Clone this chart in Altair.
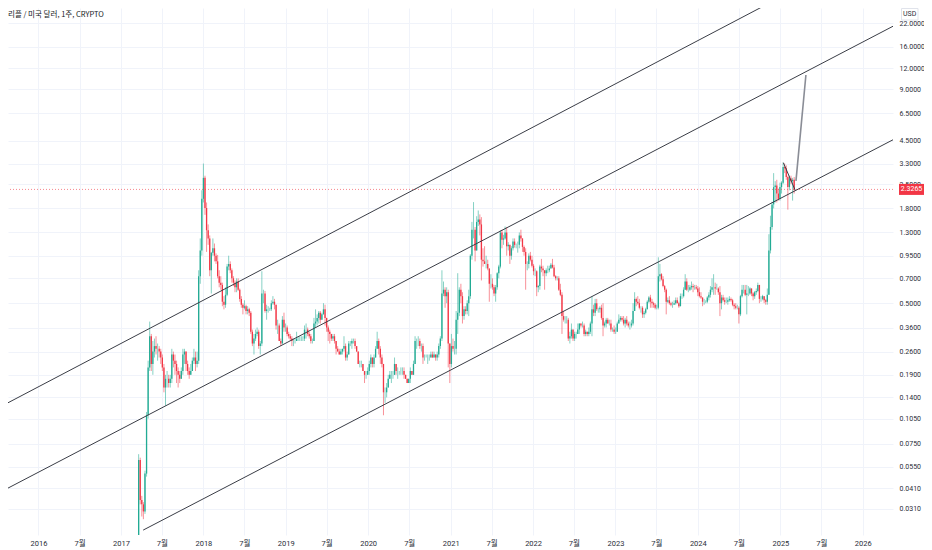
import altair as alt
import pandas as pd

UP = "#22ab94"
DOWN = "#f23645"
LINE = "#3a3d46"
GRID = "#f0f3fa"
TXT = "#2a2e39"
FONT = "Roboto, Noto Sans CJK KR, sans-serif"

title_text = "리플 / 미국 달러, 1주, CRYPTO"
currency = "USD"
last_price = 2.3265
first_open = 0.0085

y_ticks = [0.031, 0.041, 0.055, 0.075, 0.105, 0.14, 0.19, 0.26, 0.36, 0.5, 0.7,
           0.95, 1.3, 1.8, 2.5, 3.3, 4.5, 6.5, 9.0, 12.0, 16.0, 22.0]
x_tick_years = list(range(2016, 2027))

# weekly candles (high, low, close); open = previous week's close
w2017 = [  # from 2017-03-20
    (0.065, 0.008, 0.060), (0.062, 0.033, 0.035), (0.037, 0.028, 0.033), (0.034, 0.027, 0.030),
    (0.052, 0.029, 0.050), (0.115, 0.048, 0.110), (0.23, 0.105, 0.21), (0.39, 0.20, 0.32),
    (0.33, 0.20, 0.22), (0.30, 0.19, 0.26),
    (0.31, 0.24, 0.28), (0.32, 0.25, 0.27), (0.29, 0.23, 0.27), (0.28, 0.24, 0.26), (0.27, 0.22, 0.24),
    (0.25, 0.20, 0.21), (0.22, 0.15, 0.16), (0.19, 0.125, 0.18), (0.20, 0.16, 0.18), (0.19, 0.16, 0.17),
    (0.19, 0.16, 0.18), (0.27, 0.17, 0.25), (0.26, 0.21, 0.23), (0.25, 0.19, 0.22),
    (0.23, 0.17, 0.20), (0.21, 0.16, 0.19), (0.20, 0.17, 0.18), (0.21, 0.18, 0.20),
    (0.27, 0.19, 0.25), (0.27, 0.22, 0.26), (0.26, 0.20, 0.22), (0.23, 0.19, 0.20), (0.21, 0.18, 0.19),
    (0.22, 0.19, 0.20), (0.24, 0.20, 0.23), (0.27, 0.22, 0.24), (0.26, 0.20, 0.22),
    (0.26, 0.21, 0.23), (0.78, 0.22, 0.72), (1.20, 0.65, 1.02), (2.30, 0.95, 2.05),
]
w2018 = [  # from 2018-01-01
    (3.30, 1.95, 2.72), (2.80, 1.65, 1.81), (1.95, 1.00, 1.34), (1.45, 1.10, 1.20), (1.25, 0.72, 0.78),
    (1.00, 0.57, 0.99), (1.20, 0.95, 1.05), (1.12, 0.88, 0.95), (0.98, 0.85, 0.88),
    (0.96, 0.70, 0.72), (0.78, 0.62, 0.66), (0.72, 0.60, 0.64), (0.66, 0.48, 0.51),
    (0.55, 0.46, 0.49), (0.62, 0.47, 0.56), (0.85, 0.55, 0.82), (0.95, 0.78, 0.85), (0.88, 0.75, 0.78),
    (0.80, 0.66, 0.70), (0.72, 0.63, 0.66), (0.68, 0.58, 0.62), (0.70, 0.58, 0.67),
    (0.70, 0.59, 0.60), (0.61, 0.51, 0.53), (0.55, 0.47, 0.49), (0.50, 0.43, 0.47),
    (0.52, 0.46, 0.48), (0.49, 0.43, 0.45), (0.48, 0.43, 0.46), (0.47, 0.42, 0.44), (0.45, 0.33, 0.34),
    (0.35, 0.28, 0.29), (0.33, 0.25, 0.31), (0.35, 0.30, 0.33), (0.36, 0.32, 0.34),
    (0.35, 0.27, 0.28), (0.30, 0.25, 0.29), (0.77, 0.28, 0.57), (0.60, 0.50, 0.57),
    (0.59, 0.44, 0.45), (0.49, 0.40, 0.46), (0.48, 0.44, 0.46), (0.47, 0.45, 0.46), (0.52, 0.45, 0.50),
    (0.55, 0.49, 0.51), (0.53, 0.46, 0.49), (0.49, 0.35, 0.37), (0.40, 0.33, 0.37),
    (0.38, 0.30, 0.30), (0.31, 0.28, 0.29), (0.42, 0.29, 0.40), (0.44, 0.34, 0.36), (0.38, 0.34, 0.36),
]
w2019 = [  # from 2019-01-07
    (0.37, 0.32, 0.33), (0.34, 0.31, 0.32), (0.33, 0.30, 0.31), (0.32, 0.28, 0.30),
    (0.31, 0.28, 0.30), (0.31, 0.29, 0.30), (0.34, 0.30, 0.31), (0.32, 0.30, 0.31),
    (0.32, 0.30, 0.31), (0.32, 0.30, 0.31), (0.32, 0.30, 0.31), (0.37, 0.30, 0.35),
    (0.38, 0.31, 0.35), (0.36, 0.32, 0.33), (0.34, 0.31, 0.32), (0.33, 0.29, 0.30), (0.31, 0.29, 0.30),
    (0.41, 0.30, 0.38), (0.46, 0.36, 0.39), (0.43, 0.37, 0.41), (0.45, 0.38, 0.44),
    (0.45, 0.38, 0.40), (0.44, 0.40, 0.43), (0.50, 0.43, 0.46), (0.49, 0.37, 0.41),
    (0.41, 0.34, 0.36), (0.37, 0.30, 0.34), (0.35, 0.29, 0.33), (0.33, 0.30, 0.31), (0.33, 0.30, 0.32),
    (0.33, 0.29, 0.30), (0.30, 0.25, 0.27), (0.28, 0.26, 0.26), (0.27, 0.25, 0.25),
    (0.27, 0.25, 0.26), (0.27, 0.25, 0.27), (0.32, 0.26, 0.28), (0.29, 0.23, 0.24), (0.26, 0.23, 0.25),
    (0.30, 0.25, 0.29), (0.30, 0.28, 0.29), (0.31, 0.27, 0.30), (0.31, 0.29, 0.30),
    (0.31, 0.27, 0.28), (0.28, 0.26, 0.26), (0.26, 0.22, 0.22), (0.23, 0.21, 0.22),
    (0.23, 0.21, 0.22), (0.22, 0.20, 0.20), (0.20, 0.17, 0.19), (0.20, 0.18, 0.19), (0.21, 0.19, 0.20),
]
w2020 = [  # from 2020-01-06
    (0.23, 0.19, 0.22), (0.25, 0.21, 0.24), (0.24, 0.21, 0.22), (0.25, 0.21, 0.24),
    (0.28, 0.24, 0.27), (0.34, 0.27, 0.30), (0.31, 0.25, 0.27), (0.28, 0.22, 0.24),
    (0.25, 0.21, 0.22), (0.22, 0.11, 0.15), (0.16, 0.13, 0.15), (0.17, 0.14, 0.16), (0.19, 0.16, 0.18),
    (0.20, 0.18, 0.19), (0.20, 0.17, 0.19), (0.20, 0.18, 0.19), (0.24, 0.19, 0.22),
    (0.22, 0.19, 0.20), (0.21, 0.18, 0.20), (0.20, 0.19, 0.20), (0.21, 0.19, 0.20),
    (0.21, 0.19, 0.20), (0.21, 0.18, 0.19), (0.19, 0.18, 0.18), (0.18, 0.17, 0.17), (0.18, 0.17, 0.18),
    (0.21, 0.17, 0.20), (0.20, 0.19, 0.19), (0.23, 0.19, 0.22), (0.32, 0.22, 0.30),
    (0.31, 0.27, 0.30), (0.32, 0.28, 0.30), (0.31, 0.27, 0.28), (0.29, 0.26, 0.28), (0.29, 0.22, 0.24),
    (0.25, 0.23, 0.24), (0.25, 0.24, 0.24), (0.25, 0.22, 0.24), (0.25, 0.23, 0.24),
    (0.26, 0.24, 0.25), (0.26, 0.24, 0.24), (0.26, 0.24, 0.25), (0.25, 0.23, 0.24),
    (0.26, 0.23, 0.25), (0.29, 0.24, 0.28), (0.32, 0.27, 0.31), (0.78, 0.30, 0.57), (0.67, 0.55, 0.60),
    (0.62, 0.47, 0.55), (0.62, 0.50, 0.58), (0.60, 0.21, 0.29), (0.29, 0.17, 0.22),
]
w2021 = [  # from 2021-01-04
    (0.33, 0.21, 0.28), (0.31, 0.26, 0.27), (0.30, 0.25, 0.27), (0.45, 0.25, 0.40),
    (0.75, 0.33, 0.44), (0.62, 0.42, 0.60), (0.65, 0.50, 0.55), (0.58, 0.38, 0.42),
    (0.48, 0.40, 0.46), (0.48, 0.43, 0.45), (0.52, 0.43, 0.50), (0.60, 0.42, 0.55), (0.97, 0.53, 0.95),
    (1.50, 0.90, 1.35), (1.96, 1.20, 1.35), (1.40, 0.88, 1.02), (1.62, 1.05, 1.50),
    (1.75, 1.42, 1.55), (1.66, 1.25, 1.45), (1.60, 0.68, 0.90), (1.05, 0.82, 0.88), (1.08, 0.85, 0.85),
    (0.95, 0.80, 0.85), (0.90, 0.78, 0.80), (0.80, 0.51, 0.65), (0.74, 0.61, 0.65),
    (0.70, 0.60, 0.62), (0.64, 0.55, 0.57), (0.64, 0.51, 0.62), (0.76, 0.60, 0.75),
    (0.84, 0.70, 0.82), (1.34, 0.80, 1.30), (1.35, 1.05, 1.18), (1.26, 1.10, 1.20), (1.41, 1.18, 1.30),
    (1.40, 0.95, 1.08), (1.14, 1.02, 1.10), (1.10, 0.85, 0.95), (1.08, 0.90, 1.05),
    (1.20, 1.02, 1.15), (1.20, 1.06, 1.10), (1.12, 1.05, 1.10), (1.15, 0.99, 1.10),
    (1.30, 1.05, 1.25), (1.35, 1.15, 1.20), (1.19, 1.00, 1.07), (1.09, 0.95, 1.00), (1.05, 0.60, 0.85),
    (0.88, 0.78, 0.85), (0.98, 0.80, 0.95), (1.00, 0.88, 0.90), (0.95, 0.81, 0.83),
]
w2022 = [  # from 2022-01-03
    (0.85, 0.73, 0.77), (0.80, 0.72, 0.77), (0.78, 0.55, 0.62), (0.64, 0.58, 0.63), (0.84, 0.60, 0.82),
    (0.91, 0.76, 0.80), (0.83, 0.72, 0.78), (0.78, 0.60, 0.75), (0.80, 0.72, 0.78),
    (0.83, 0.75, 0.78), (0.83, 0.76, 0.80), (0.86, 0.80, 0.84), (0.91, 0.80, 0.81),
    (0.84, 0.71, 0.72), (0.73, 0.68, 0.70), (0.72, 0.68, 0.70), (0.72, 0.59, 0.60),
    (0.65, 0.55, 0.56), (0.58, 0.33, 0.42), (0.45, 0.39, 0.40), (0.42, 0.38, 0.40), (0.42, 0.38, 0.40),
    (0.41, 0.30, 0.31), (0.34, 0.29, 0.32), (0.38, 0.31, 0.35), (0.35, 0.30, 0.31),
    (0.34, 0.30, 0.33), (0.34, 0.31, 0.33), (0.38, 0.33, 0.35), (0.38, 0.33, 0.38),
    (0.38, 0.36, 0.37), (0.39, 0.36, 0.37), (0.38, 0.32, 0.33), (0.35, 0.32, 0.34), (0.34, 0.32, 0.33),
    (0.36, 0.32, 0.34), (0.39, 0.33, 0.38), (0.55, 0.32, 0.46), (0.49, 0.42, 0.44),
    (0.53, 0.42, 0.50), (0.53, 0.45, 0.46), (0.47, 0.44, 0.46), (0.48, 0.44, 0.47), (0.49, 0.40, 0.41),
    (0.50, 0.32, 0.37), (0.39, 0.36, 0.38), (0.41, 0.36, 0.40), (0.41, 0.38, 0.38),
    (0.40, 0.37, 0.38), (0.40, 0.34, 0.35), (0.36, 0.34, 0.35), (0.37, 0.33, 0.34),
]
w2023 = [  # from 2023-01-02
    (0.36, 0.33, 0.34), (0.39, 0.34, 0.38), (0.43, 0.38, 0.40), (0.42, 0.39, 0.41), (0.42, 0.39, 0.40),
    (0.42, 0.37, 0.38), (0.41, 0.36, 0.40), (0.42, 0.37, 0.38), (0.39, 0.36, 0.37),
    (0.39, 0.35, 0.37), (0.40, 0.36, 0.38), (0.50, 0.37, 0.45), (0.58, 0.45, 0.53),
    (0.54, 0.48, 0.51), (0.55, 0.49, 0.50), (0.53, 0.46, 0.47), (0.48, 0.44, 0.47),
    (0.48, 0.41, 0.43), (0.45, 0.41, 0.44), (0.47, 0.43, 0.46), (0.52, 0.46, 0.51), (0.55, 0.50, 0.54),
    (0.56, 0.47, 0.51), (0.53, 0.47, 0.50), (0.51, 0.47, 0.49), (0.50, 0.46, 0.47),
    (0.49, 0.46, 0.47), (0.93, 0.46, 0.72), (0.85, 0.67, 0.74), (0.75, 0.68, 0.69), (0.72, 0.62, 0.63),
    (0.64, 0.58, 0.60), (0.61, 0.43, 0.51), (0.54, 0.50, 0.52), (0.55, 0.49, 0.50),
    (0.51, 0.48, 0.49), (0.51, 0.47, 0.49), (0.52, 0.49, 0.50), (0.54, 0.49, 0.52),
    (0.54, 0.50, 0.50), (0.51, 0.47, 0.48), (0.57, 0.48, 0.55), (0.57, 0.53, 0.55), (0.62, 0.54, 0.60),
    (0.74, 0.60, 0.67), (0.70, 0.59, 0.60), (0.64, 0.58, 0.60), (0.64, 0.59, 0.62),
    (0.67, 0.60, 0.63), (0.65, 0.58, 0.62), (0.64, 0.60, 0.62), (0.64, 0.60, 0.61),
]
w2024 = [  # from 2024-01-01
    (0.63, 0.55, 0.58), (0.62, 0.54, 0.55), (0.58, 0.53, 0.54), (0.54, 0.48, 0.51), (0.53, 0.49, 0.51),
    (0.52, 0.50, 0.51), (0.55, 0.50, 0.54), (0.58, 0.52, 0.56), (0.63, 0.54, 0.60),
    (0.70, 0.58, 0.62), (0.74, 0.56, 0.62), (0.66, 0.56, 0.61), (0.65, 0.60, 0.61),
    (0.62, 0.56, 0.58), (0.63, 0.42, 0.50), (0.56, 0.46, 0.54), (0.56, 0.51, 0.52), (0.54, 0.49, 0.51),
    (0.54, 0.50, 0.51), (0.54, 0.49, 0.52), (0.55, 0.51, 0.53), (0.54, 0.51, 0.52),
    (0.53, 0.48, 0.49), (0.50, 0.46, 0.48), (0.50, 0.46, 0.47), (0.49, 0.46, 0.47),
    (0.48, 0.38, 0.43), (0.56, 0.42, 0.55), (0.64, 0.54, 0.60), (0.64, 0.57, 0.60), (0.64, 0.55, 0.56),
    (0.64, 0.43, 0.57), (0.63, 0.55, 0.57), (0.62, 0.56, 0.61), (0.61, 0.55, 0.57),
    (0.58, 0.52, 0.55), (0.59, 0.53, 0.58), (0.61, 0.56, 0.59), (0.66, 0.58, 0.64), (0.64, 0.50, 0.53),
    (0.55, 0.51, 0.53), (0.56, 0.52, 0.55), (0.55, 0.50, 0.52), (0.53, 0.49, 0.51),
    (0.61, 0.49, 0.56), (1.27, 0.56, 1.02), (1.63, 0.98, 1.40), (1.97, 1.35, 1.90),
    (2.90, 1.80, 2.40), (2.60, 1.95, 2.45), (2.65, 1.95, 2.20), (2.35, 2.00, 2.05), (2.55, 2.00, 2.40),
]
w2025 = [  # from 2025-01-06
    (2.60, 2.20, 2.55), (3.34, 2.50, 3.15), (3.30, 2.90, 3.10), (3.22, 2.65, 2.75),
    (2.80, 1.77, 2.40), (2.80, 2.30, 2.70), (2.80, 2.50, 2.60), (2.72, 2.00, 2.65),
    (2.75, 2.20, 2.3265),
]
segments = [("2017-03-20", w2017), ("2018-01-01", w2018), ("2019-01-07", w2019),
            ("2020-01-06", w2020), ("2021-01-04", w2021), ("2022-01-03", w2022),
            ("2023-01-02", w2023), ("2024-01-01", w2024), ("2025-01-06", w2025)]

# drawn trend channel (start/end points)
line_names = ["upper", "middle", "lower"]
line_start_dates = ["2015-08-19", "2015-08-19", "2017-04-09"]
line_start_prices = [0.1302, 0.0411, 0.0233]
line_end_dates = ["2026-05-15", "2026-05-15", "2026-05-15"]
line_end_prices = [69.4, 21.1, 4.55]
flag_dates = ["2025-01-14", "2025-03-07"]
flag_prices = [3.34, 2.31]
proj_dates = ["2025-03-11", "2025-04-24"]
proj_prices = [2.61, 10.92]

rows = []
prev = first_open
for start, weeks in segments:
    dates = pd.date_range(start, periods=len(weeks), freq="7D")
    for d, (h, l, c) in zip(dates, weeks):
        o = prev
        rows.append({"date": d.strftime("%Y-%m-%d"), "open": o,
                     "high": max(h, o, c), "low": min(l, o, c), "close": c,
                     "dir": "up" if c >= o else "down"})
        prev = c
candles = pd.DataFrame(rows)

line_rows = []
for n, sd, sp, ed, ep in zip(line_names, line_start_dates, line_start_prices,
                             line_end_dates, line_end_prices):
    line_rows.append({"name": n, "date": sd, "price": sp})
    line_rows.append({"name": n, "date": ed, "price": ep})
channel = pd.DataFrame(line_rows)
flag = pd.DataFrame({"date": flag_dates, "price": flag_prices})
proj = pd.DataFrame({"date": proj_dates, "price": proj_prices})
price_df = pd.DataFrame({"p": [last_price], "label": [f"{last_price:.4f}"]})

xscale = alt.Scale(type="utc", nice=False, padding=0,
                   domain=[alt.DateTime(year=2015, month=8, date=19, utc=True),
                           alt.DateTime(year=2026, month=5, date=15, utc=True)])
yscale = alt.Scale(type="log", nice=False, padding=0, domain=[0.02181, 27.0])

x_vals = []
for yr in x_tick_years:
    x_vals.append(alt.DateTime(year=yr, month=1, date=1, utc=True))
    if yr < 2026:
        x_vals.append(alt.DateTime(year=yr, month=7, date=1, utc=True))

xaxis = alt.Axis(values=x_vals,
                 labelExpr="utcmonth(datum.value) == 6 ? '7월' : utcFormat(datum.value, '%Y')",
                 title=None, grid=True, gridColor=GRID, gridWidth=1, domain=False, ticks=False,
                 labelFont=FONT, labelFontSize=7.5, labelColor=TXT, labelPadding=4,
                 labelFlush=False, labelOverlap=False)
yaxis = alt.Axis(orient="right", values=y_ticks, format=".4f", title=None, grid=True,
                 gridColor=GRID, gridWidth=1, domain=False, ticks=False,
                 labelFont=FONT, labelFontSize=7, labelColor=TXT, labelPadding=6,
                 labelOverlap=False, labelAlign="left", labelFlush=False)

X = alt.X("date:T", scale=xscale, axis=xaxis)
color = alt.Color("dir:N", scale=alt.Scale(domain=["up", "down"], range=[UP, DOWN]), legend=None)

wicks = alt.Chart(candles).mark_rule(strokeWidth=1, opacity=0.55, clip=True).encode(
    x=X, y=alt.Y("low:Q", scale=yscale, axis=yaxis), y2="high:Q", color=color)
bodies = alt.Chart(candles).mark_bar(width=1.3, clip=True).encode(
    x=X, y=alt.Y("open:Q", scale=yscale, axis=yaxis), y2="close:Q", color=color)

chan = alt.Chart(channel).mark_line(color=LINE, strokeWidth=1, clip=True).encode(
    x=X, y=alt.Y("price:Q", scale=yscale, axis=yaxis), detail="name:N")
flag_l = alt.Chart(flag).mark_line(color=LINE, strokeWidth=1, clip=True).encode(
    x=X, y=alt.Y("price:Q", scale=yscale, axis=yaxis))
proj_l = alt.Chart(proj).mark_line(color="#8a8d96", strokeWidth=1.6, clip=True).encode(
    x=X, y=alt.Y("price:Q", scale=yscale, axis=yaxis))

price_line = alt.Chart(price_df).mark_rule(color=DOWN, strokeDash=[1, 2], opacity=0.6,
                                           strokeWidth=1).encode(
    y=alt.Y("p:Q", scale=yscale, axis=yaxis))
price_box = alt.Chart(price_df).mark_rule(color=DOWN, strokeWidth=11, clip=False).encode(
    y=alt.Y("p:Q", scale=yscale, axis=yaxis), x=alt.value(891), x2=alt.value(916))
price_txt = alt.Chart(price_df).mark_text(color="white", font=FONT, fontSize=7,
                                          align="center", baseline="middle", clip=False).encode(
    y=alt.Y("p:Q", scale=yscale, axis=yaxis), x=alt.value(903.5), text="label:N")

usd_box = alt.Chart(price_df).mark_rect(fill="white", stroke="#e0e3eb", strokeWidth=1,
                                        clip=False).encode(
    x=alt.value(893.5), x2=alt.value(910), y=alt.value(0.5), y2=alt.value(12))
usd_txt = alt.Chart(price_df).mark_text(text=currency, color=TXT, font=FONT, fontSize=7,
                                        align="center", baseline="middle", clip=False).encode(
    x=alt.value(901.7), y=alt.value(5.8))
title = alt.Chart(price_df).mark_text(text=title_text, color="#131722",
                                      font="Noto Sans CJK KR, sans-serif", fontSize=7.5,
                                      align="left", baseline="middle").encode(
    x=alt.value(0), y=alt.value(6.5))

chart = alt.layer(wicks, bodies, chan, flag_l, proj_l, price_line, price_box, price_txt,
                  usd_box, usd_txt, title).properties(
    width=885, height=527,
    autosize=alt.AutoSizeParams(type="none"),
    padding={"left": 0, "top": 0, "right": 31, "bottom": 15},
    background="white",
).configure_view(stroke=None)

chart.save("out.html", embed_options={"renderer": "svg", "actions": False})
